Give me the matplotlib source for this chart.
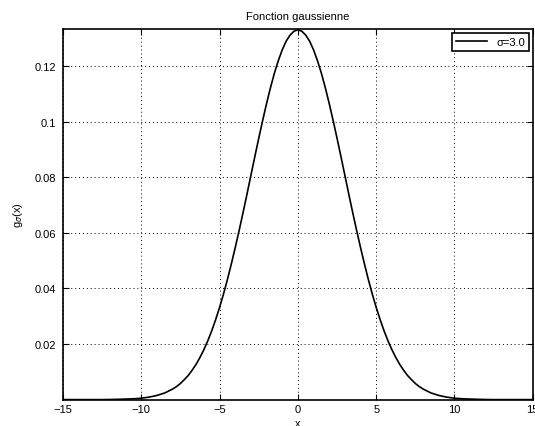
import matplotlib
matplotlib.use("Agg")
import matplotlib.pyplot as plt

plt.rcParams['font.family'] = ['Liberation Sans', 'DejaVu Sans']

x_vals = [-15.0, -14.5, -14.0, -13.5, -13.0, -12.5, -12.0, -11.5, -11.0, -10.5,
          -10.0, -9.5, -9.0, -8.5, -8.0, -7.75, -7.5, -7.25, -7.0, -6.75, -6.5, -6.25,
          -6.0, -5.75, -5.5, -5.25, -5.0, -4.75, -4.5, -4.25, -4.0, -3.75, -3.5, -3.25,
          -3.0, -2.75, -2.5, -2.25, -2.0, -1.75, -1.5, -1.25, -1.0, -0.75, -0.5, -0.25,
          0.0, 0.25, 0.5, 0.75, 1.0, 1.25, 1.5, 1.75, 2.0, 2.25, 2.5, 2.75,
          3.0, 3.25, 3.5, 3.75, 4.0, 4.25, 4.5, 4.75, 5.0, 5.25, 5.5, 5.75,
          6.0, 6.25, 6.5, 6.75, 7.0, 7.25, 7.5, 7.75, 8.0, 8.5, 9.0, 9.5,
          10.0, 10.5, 11.0, 11.5, 12.0, 12.5, 13.0, 13.5, 14.0, 14.5, 15.0]
g_vals = [0.0, 0.0, 0.0, 0.0, 0.0, 0.0, 0.00004, 0.0001, 0.0002, 0.0003,
          0.0005, 0.0009, 0.0015, 0.0024, 0.0038, 0.0047, 0.0058, 0.0072, 0.0087, 0.0106, 0.0127, 0.0152,
          0.0180, 0.0212, 0.0248, 0.0288, 0.0332, 0.0380, 0.0432, 0.0488, 0.0547, 0.0609, 0.0673, 0.0739,
          0.0807, 0.0874, 0.0940, 0.1004, 0.1065, 0.1122, 0.1174, 0.1219, 0.1258, 0.1289, 0.1311, 0.1325,
          0.1330, 0.1325, 0.1311, 0.1289, 0.1258, 0.1219, 0.1174, 0.1122, 0.1065, 0.1004, 0.0940, 0.0874,
          0.0807, 0.0739, 0.0673, 0.0609, 0.0547, 0.0488, 0.0432, 0.0380, 0.0332, 0.0288, 0.0248, 0.0212,
          0.0180, 0.0152, 0.0127, 0.0106, 0.0087, 0.0072, 0.0058, 0.0047, 0.0038, 0.0024, 0.0015, 0.0009,
          0.0005, 0.0003, 0.0002, 0.0001, 0.00004, 0.0, 0.0, 0.0, 0.0, 0.0, 0.0]
x_ticks = [-15, -10, -5, 0, 5, 10, 15]
x_tick_labels = ['\u221215', '\u221210', '\u22125', '0', '5', '10', '15']
y_ticks = [0.02, 0.04, 0.06, 0.08, 0.1, 0.12]
y_tick_labels = ['0.02', '0.04', '0.06', '0.08', '0.1', '0.12']
legend_label = 'σ=3.0'

fig = plt.figure(figsize=(5.35, 4.27), dpi=100)
ax = fig.add_axes([0.1178, 0.0618, 0.878, 0.868])
ax.plot(x_vals, g_vals, color='black', linewidth=1.2, label=legend_label)
ax.set_xlim(-15, 15)
ax.set_ylim(0, 0.1333)
ax.set_xticks(x_ticks)
ax.set_xticklabels(x_tick_labels)
ax.set_yticks(y_ticks)
ax.set_yticklabels(y_tick_labels)
ax.grid(True, linestyle=(0, (1, 3)), color='black', linewidth=0.7)
ax.tick_params(direction='in', top=True, right=True, labelsize=8, length=4, width=0.8)
ax.tick_params(axis='x', pad=3)
ax.tick_params(axis='y', pad=5)
for s in ax.spines.values():
    s.set_linewidth(1.2)
ax.set_title('Fonction gaussienne', fontsize=8, pad=7)
ax.set_ylabel('g$_\\sigma$(x)', fontsize=8, labelpad=7)
ax.set_xlabel('x', fontsize=8, labelpad=3)
leg = ax.legend(loc='upper right', fontsize=8, fancybox=False, framealpha=1,
                edgecolor='black', handlelength=2.8, borderaxespad=0.35,
                borderpad=0.35)
leg.get_frame().set_linewidth(1.2)
fig.savefig('out.png', dpi=100)
